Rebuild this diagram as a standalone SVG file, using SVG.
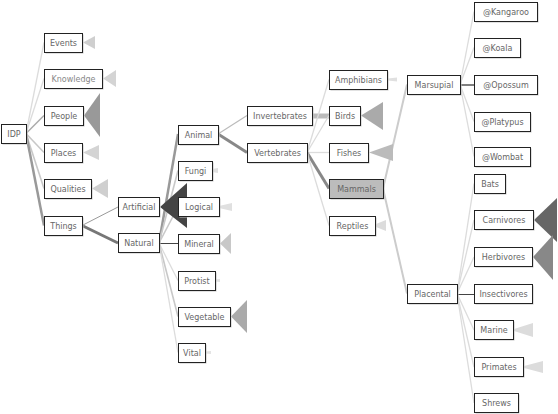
<svg xmlns="http://www.w3.org/2000/svg" width="558" height="414" viewBox="0 0 558 414">
<style>
.sh{fill:#c4c4c4}
.bx{fill:#fff;stroke:#222;stroke-width:1}
.sel{fill:#bcbcbc}
.t{font-family:"DejaVu Sans","Liberation Sans",sans-serif;font-size:8px;fill:#666;text-anchor:middle;dominant-baseline:central}
.c{fill:none;stroke-linecap:butt}
.l{stroke:#dcdcdc;stroke-width:1.3}
.m{stroke:#c8c8c8;stroke-width:1.6}
.d{stroke:#444;stroke-width:1}
</style>
<rect width="558" height="414" fill="#fff"/>
<g id="connectors">
<line class="c l" x1="26" y1="133.5" x2="44" y2="42.5"/>
<line class="c l" x1="26" y1="133.5" x2="44" y2="78.5"/>
<line class="c" stroke="#aaa" stroke-width="1.5" x1="26" y1="133.5" x2="44" y2="115.5"/>
<line class="c m" x1="26" y1="133.5" x2="44" y2="152.5"/>
<line class="c m" x1="26" y1="133.5" x2="44" y2="188.5"/>
<line class="c" stroke="#999" stroke-width="2.5" x1="26" y1="133.5" x2="44" y2="225.5"/>
<line class="c" stroke="#999" stroke-width="1" x1="82" y1="225.5" x2="118" y2="207"/>
<line class="c" stroke="#777" stroke-width="3" x1="82" y1="225.5" x2="118" y2="243"/>
<line class="c" stroke="#999" stroke-width="2.5" x1="159" y1="243" x2="178" y2="134"/>
<line class="c m" x1="159" y1="243" x2="178" y2="170.5"/>
<line class="c m" x1="159" y1="243" x2="178" y2="207"/>
<line class="c d" x1="159" y1="243.5" x2="178" y2="243.5"/>
<line class="c l" x1="159" y1="243" x2="178" y2="280.5"/>
<line class="c m" x1="159" y1="243" x2="178" y2="316.5"/>
<line class="c l" x1="159" y1="243" x2="178" y2="352.5"/>
<line class="c" stroke="#bbb" stroke-width="1.2" x1="218" y1="134" x2="247" y2="115.5"/>
<line class="c" stroke="#888" stroke-width="3" x1="218" y1="134" x2="247" y2="152.5"/>
<line class="c" stroke="#bbb" stroke-width="5" x1="312" y1="116" x2="329" y2="116"/>
<line class="c l" x1="307" y1="152.5" x2="329" y2="79.5"/>
<line class="c l" x1="307" y1="152.5" x2="329" y2="115.5"/>
<line class="c l" x1="307" y1="152.5" x2="329" y2="152.5"/>
<line class="c" stroke="#888" stroke-width="3" x1="307" y1="152.5" x2="329" y2="188.5"/>
<line class="c l" x1="307" y1="152.5" x2="329" y2="225.5"/>
<line class="c" stroke="#ccc" stroke-width="2" x1="383" y1="188.5" x2="407" y2="84.5"/>
<line class="c" stroke="#ccc" stroke-width="2" x1="383" y1="188.5" x2="407" y2="293.5"/>
<line class="c l" x1="460" y1="84.5" x2="474" y2="11.5"/>
<line class="c l" x1="460" y1="84.5" x2="474" y2="47.5"/>
<line class="c" stroke="#555" stroke-width="1.5" x1="460" y1="85" x2="474" y2="85"/>
<line class="c l" x1="460" y1="84.5" x2="474" y2="121.5"/>
<line class="c l" x1="460" y1="84.5" x2="474" y2="156.5"/>
<line class="c l" x1="457" y1="293.5" x2="474" y2="183.5"/>
<line class="c l" x1="457" y1="293.5" x2="474" y2="220"/>
<line class="c l" x1="457" y1="293.5" x2="474" y2="257"/>
<line class="c d" x1="457" y1="294.5" x2="474" y2="294.5"/>
<line class="c l" x1="457" y1="293.5" x2="474" y2="330"/>
<line class="c l" x1="457" y1="293.5" x2="474" y2="367"/>
<line class="c l" x1="457" y1="293.5" x2="474" y2="403"/>
</g>
<g id="collapsed">
<polygon points="83,42.5 95,36 95,49" fill="#cfcfcf"/>
<polygon points="103,78.5 116,70 116,87" fill="#d4d4d4"/>
<polygon points="84,115.5 100,93 100,137" fill="#999"/>
<polygon points="83,152.5 99,145 99,160" fill="#d4d4d4"/>
<polygon points="92,188.5 108,179 108,198" fill="#cfcfcf"/>
<polygon points="160,207 187,183 187,228" fill="#444"/>
<polygon points="212,169 218,168 218,173 212,172" fill="#e0e0e0"/>
<polygon points="219,206 232,203 232,211 219,208" fill="#e0e0e0"/>
<polygon points="220,243.5 231,233 231,254" fill="#c8c8c8"/>
<polygon points="215,279.5 220,279 220,282 215,281.5" fill="#e4e4e4"/>
<polygon points="231,316.5 247,300 247,333" fill="#aaa"/>
<polygon points="205,351.5 211,351 211,354 205,353.5" fill="#e4e4e4"/>
<polygon points="388,78.5 397,77.5 397,81.5 388,80.5" fill="#e0e0e0"/>
<polygon points="361,115.5 383,102 383,130" fill="#aaa"/>
<polygon points="369,152.5 393,144 393,161" fill="#bbb"/>
<polygon points="376,224 386,220 386,231 376,227" fill="#dcdcdc"/>
<polygon points="534,220 557,198 557,242" fill="#666"/>
<polygon points="533,257 553,235 553,280" fill="#888"/>
<polygon points="514,329 533,323 533,337 514,331" fill="#dcdcdc"/>
<polygon points="524,366 543,361 543,373 524,368" fill="#dcdcdc"/>
</g>
<g id="nodes" transform="translate(0.5,0.5)">
<g id="n-idp"><rect class="sh" x="2" y="125" width="25" height="19"/><rect class="bx" x="1" y="124" width="25" height="19"/><text class="t" x="13.5" y="133.5">IDP</text></g>
<g id="n-events"><rect class="sh" x="45" y="34" width="38" height="19"/><rect class="bx" x="44" y="33" width="38" height="19"/><text class="t" x="63" y="42.5">Events</text></g>
<g id="n-knowledge"><rect class="sh" x="45" y="70" width="58" height="19"/><rect class="bx" x="44" y="69" width="58" height="19"/><text class="t" x="73" y="78.5" style="fill:#888">Knowledge</text></g>
<g id="n-people"><rect class="sh" x="45" y="107" width="39" height="19"/><rect class="bx" x="44" y="106" width="39" height="19"/><text class="t" x="63.5" y="115.5">People</text></g>
<g id="n-places"><rect class="sh" x="45" y="144" width="38" height="19"/><rect class="bx" x="44" y="143" width="38" height="19"/><text class="t" x="63" y="152.5">Places</text></g>
<g id="n-qualities"><rect class="sh" x="45" y="180" width="47" height="19"/><rect class="bx" x="44" y="179" width="47" height="19"/><text class="t" x="67.5" y="188.5">Qualities</text></g>
<g id="n-things"><rect class="sh" x="45" y="217" width="38" height="19"/><rect class="bx" x="44" y="216" width="38" height="19"/><text class="t" x="63" y="225.5">Things</text></g>
<g id="n-artificial"><rect class="sh" x="119" y="198" width="41" height="19"/><rect class="bx" x="118" y="197" width="41" height="19"/><text class="t" x="138.5" y="206.5">Artificial</text></g>
<g id="n-natural"><rect class="sh" x="119" y="234" width="41" height="19"/><rect class="bx" x="118" y="233" width="41" height="19"/><text class="t" x="138.5" y="242.5">Natural</text></g>
<g id="n-animal"><rect class="sh" x="179" y="126" width="40" height="19"/><rect class="bx" x="178" y="125" width="40" height="19"/><text class="t" x="198" y="134.5">Animal</text></g>
<g id="n-fungi"><rect class="sh" x="179" y="162" width="34" height="19"/><rect class="bx" x="178" y="161" width="34" height="19"/><text class="t" x="195" y="170.5">Fungi</text></g>
<g id="n-logical"><rect class="sh" x="179" y="198" width="41" height="19"/><rect class="bx" x="178" y="197" width="41" height="19"/><text class="t" x="198.5" y="206.5">Logical</text></g>
<g id="n-mineral"><rect class="sh" x="179" y="235" width="41" height="19"/><rect class="bx" x="178" y="234" width="41" height="19"/><text class="t" x="198.5" y="243.5">Mineral</text></g>
<g id="n-protist"><rect class="sh" x="179" y="272" width="37" height="19"/><rect class="bx" x="178" y="271" width="37" height="19"/><text class="t" x="196.5" y="280.5">Protist</text></g>
<g id="n-vegetable"><rect class="sh" x="179" y="308" width="52" height="19"/><rect class="bx" x="178" y="307" width="52" height="19"/><text class="t" x="204" y="316.5">Vegetable</text></g>
<g id="n-vital"><rect class="sh" x="179" y="344" width="27" height="19"/><rect class="bx" x="178" y="343" width="27" height="19"/><text class="t" x="191.5" y="352.5">Vital</text></g>
<g id="n-invertebrates"><rect class="sh" x="248" y="107" width="65" height="19"/><rect class="bx" x="247" y="106" width="65" height="19"/><text class="t" x="279.5" y="115.5">Invertebrates</text></g>
<g id="n-vertebrates"><rect class="sh" x="248" y="144" width="60" height="19"/><rect class="bx" x="247" y="143" width="60" height="19"/><text class="t" x="277" y="152.5">Vertebrates</text></g>
<g id="n-amphibians"><rect class="sh" x="330" y="71" width="58" height="19"/><rect class="bx" x="329" y="70" width="58" height="19"/><text class="t" x="358" y="79.5">Amphibians</text></g>
<g id="n-birds"><rect class="sh" x="330" y="107" width="31" height="19"/><rect class="bx" x="329" y="106" width="31" height="19"/><text class="t" x="344.5" y="115.5">Birds</text></g>
<g id="n-fishes"><rect class="sh" x="330" y="144" width="39" height="19"/><rect class="bx" x="329" y="143" width="39" height="19"/><text class="t" x="348.5" y="152.5">Fishes</text></g>
<g id="n-mammals"><rect class="sh" x="330" y="180" width="54" height="19"/><rect class="bx sel" x="329" y="179" width="54" height="19"/><text class="t" x="356" y="188.5">Mammals</text></g>
<g id="n-reptiles"><rect class="sh" x="330" y="217" width="46" height="19"/><rect class="bx" x="329" y="216" width="46" height="19"/><text class="t" x="352" y="225.5">Reptiles</text></g>
<g id="n-marsupial"><rect class="sh" x="408" y="76" width="53" height="19"/><rect class="bx" x="407" y="75" width="53" height="19"/><text class="t" x="433.5" y="84.5">Marsupial</text></g>
<g id="n-placental"><rect class="sh" x="408" y="285" width="50" height="19"/><rect class="bx" x="407" y="284" width="50" height="19"/><text class="t" x="432" y="293.5">Placental</text></g>
<g id="n-kangaroo"><rect class="sh" x="475" y="3" width="63" height="19"/><rect class="bx" x="474" y="2" width="63" height="19"/><text class="t" x="505.5" y="11.5">@Kangaroo</text></g>
<g id="n-koala"><rect class="sh" x="475" y="39" width="46" height="19"/><rect class="bx" x="474" y="38" width="46" height="19"/><text class="t" x="497" y="47.5">@Koala</text></g>
<g id="n-opossum"><rect class="sh" x="475" y="76" width="63" height="19"/><rect class="bx" x="474" y="75" width="63" height="19"/><text class="t" x="505.5" y="84.5">@Opossum</text></g>
<g id="n-platypus"><rect class="sh" x="475" y="113" width="56" height="19"/><rect class="bx" x="474" y="112" width="56" height="19"/><text class="t" x="502" y="121.5">@Platypus</text></g>
<g id="n-wombat"><rect class="sh" x="475" y="148" width="56" height="19"/><rect class="bx" x="474" y="147" width="56" height="19"/><text class="t" x="502" y="156.5">@Wombat</text></g>
<g id="n-bats"><rect class="sh" x="475" y="175" width="31" height="19"/><rect class="bx" x="474" y="174" width="31" height="19"/><text class="t" x="489.5" y="183.5">Bats</text></g>
<g id="n-carnivores"><rect class="sh" x="475" y="211" width="59" height="19"/><rect class="bx" x="474" y="210" width="59" height="19"/><text class="t" x="503.5" y="219.5">Carnivores</text></g>
<g id="n-herbivores"><rect class="sh" x="475" y="248" width="58" height="19"/><rect class="bx" x="474" y="247" width="58" height="19"/><text class="t" x="503" y="256.5">Herbivores</text></g>
<g id="n-insectivores"><rect class="sh" x="475" y="285" width="58" height="19"/><rect class="bx" x="474" y="284" width="58" height="19"/><text class="t" x="503" y="293.5">Insectivores</text></g>
<g id="n-marine"><rect class="sh" x="475" y="321" width="39" height="19"/><rect class="bx" x="474" y="320" width="39" height="19"/><text class="t" x="493.5" y="329.5">Marine</text></g>
<g id="n-primates"><rect class="sh" x="475" y="358" width="49" height="19"/><rect class="bx" x="474" y="357" width="49" height="19"/><text class="t" x="498.5" y="366.5">Primates</text></g>
<g id="n-shrews"><rect class="sh" x="475" y="394" width="44" height="19"/><rect class="bx" x="474" y="393" width="44" height="19"/><text class="t" x="496" y="402.5">Shrews</text></g>
</g>
</svg>
